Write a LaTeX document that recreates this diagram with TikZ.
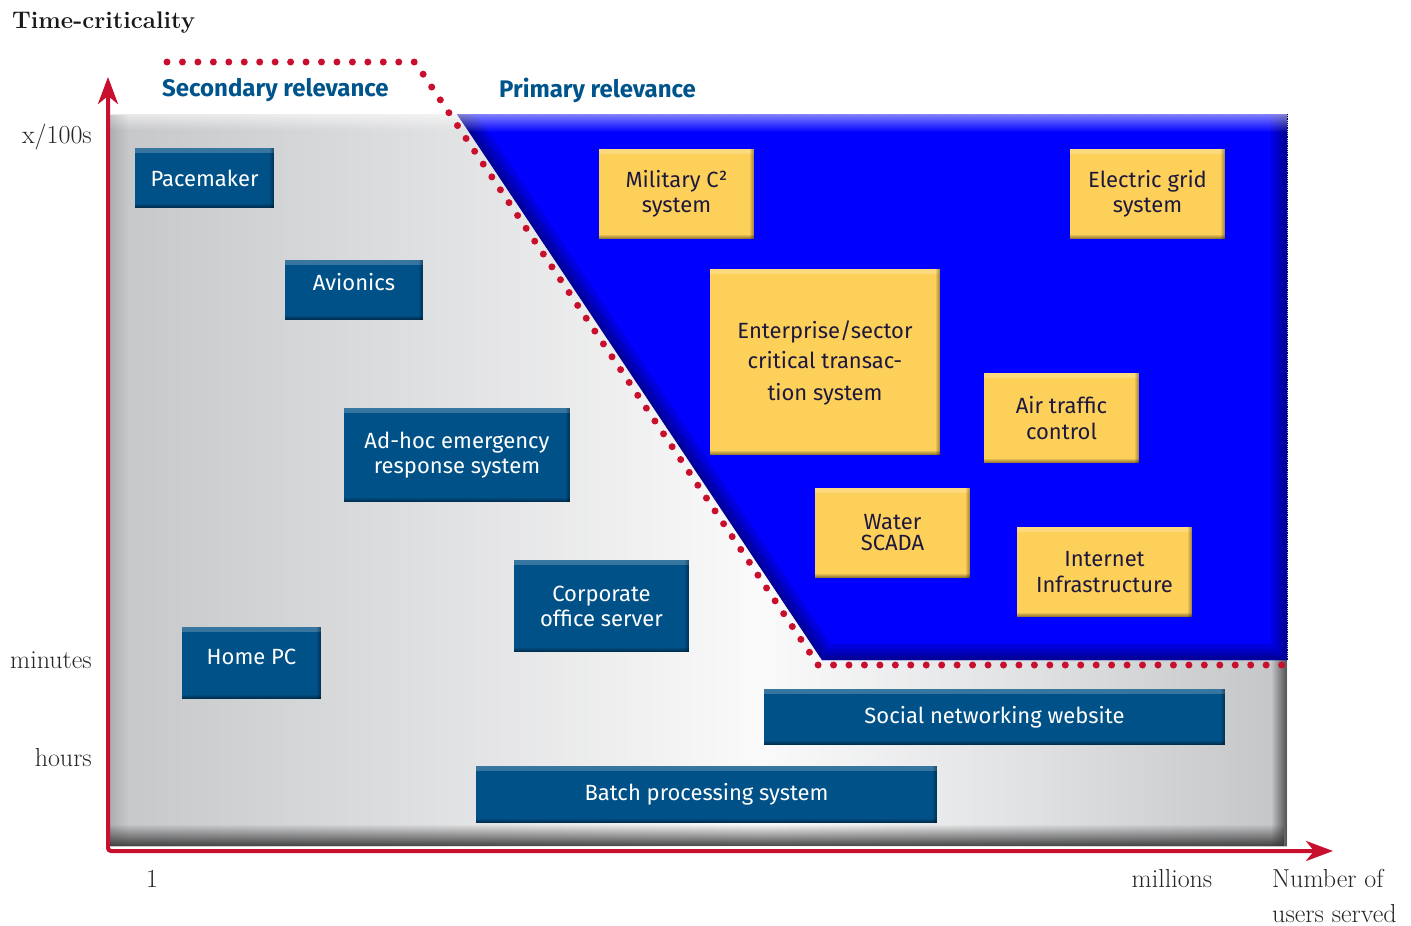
\documentclass[tikz,border=0pt]{standalone}
\usepackage{fontspec}
\newfontfamily\boxfont{Fira Sans}
\usetikzlibrary{arrows.meta,fadings}
\definecolor{axred}{RGB}{200,16,46}
\definecolor{boxblue}{RGB}{0,81,135}
\definecolor{hdblue}{RGB}{0,84,140}
\definecolor{ybox}{RGB}{253,208,90}
\definecolor{ytext}{RGB}{30,25,60}
\definecolor{navy}{RGB}{0,0,90}
\definecolor{ga}{RGB}{198,199,201}
\definecolor{gb}{RGB}{212,213,215}
\definecolor{gc}{RGB}{250,250,250}
\definecolor{gd}{RGB}{226,227,229}
\definecolor{ge}{RGB}{196,197,199}
\tikzset{
  bevel/.style={path picture={
    \fill[white,opacity=0.22,path fading=south] (path picture bounding box.north west) rectangle ([yshift=-5pt]path picture bounding box.north east);
    \fill[black,opacity=0.5,path fading=north] ([yshift=5pt]path picture bounding box.south west) rectangle (path picture bounding box.south east);
    \fill[black,opacity=0.4,path fading=west] ([xshift=-5pt]path picture bounding box.north east) rectangle (path picture bounding box.south east);
  }},
  bbox/.style={bevel, fill=boxblue, text=white, align=center, inner sep=0pt,
    font=\boxfont\fontsize{22}{25}\selectfont},
  ybx/.style={bevel, fill=ybox, text=ytext, align=center, inner sep=0pt,
    font=\boxfont\fontsize{22}{25.5}\selectfont},
  serif/.style={font=\fontsize{26}{30}\selectfont, text=black!85, inner sep=0pt},
  hd/.style={font=\boxfont\bfseries\fontsize{24}{27}\selectfont, text=hdblue, inner sep=0pt, anchor=base west},
  axis/.style={axred, line width=4pt, rounded corners=3pt},
  tipa/.tip={Stealth[length=27pt,width=20pt,inset=8pt]},
  reddots/.style={axred, line width=7pt, line cap=round, dash pattern=on 0pt off 15.45pt}
}
\begin{document}
\begin{tikzpicture}[x=1pt,y=-1pt]
\useasboundingbox (0,0) rectangle (1411,926);
% gray panel
\shade[left color=ga, right color=gb] (110,114) rectangle (290,846);
\shade[left color=gb, right color=gc] (290,114) rectangle (760,846);
\shade[left color=gc, right color=gd] (760,114) rectangle (1010,846);
\shade[left color=gd, right color=ge] (1010,114) rectangle (1287,846);
\fill[white,opacity=0.6,path fading=south] (110,114) rectangle (1287,130);
\fill[black,opacity=0.12,path fading=east] (110,114) rectangle (128,846);
\fill[black!80,opacity=0.9,path fading=north] (110,824) rectangle (1287,846);
\fill[black!80,opacity=0.8,path fading=west] (1271,114) rectangle (1287,846);
% blue primary region
\fill[blue] (457,114) -- (1287,114) -- (1287,660) -- (822,660) -- cycle;
\begin{scope}
\clip (457,114) -- (1287,114) -- (1287,660) -- (822,660) -- cycle;
\foreach \w in {32,22,14,8}{
  \draw[navy, line width=\w pt, opacity=0.2, line join=miter] (1287,100) -- (1287,660) -- (822,660) -- (457,114);
}
\fill[white,opacity=0.5,path fading=south] (440,114) rectangle (1300,132);
\end{scope}
\draw[densely dotted, blue!45!white, line width=0.8pt] (457,114) -- (1287,114);
\draw[densely dotted, navy, line width=0.8pt] (1287,114) -- (1287,660);
% red dotted boundary
\draw[reddots] (167,62) -- (415,62) -- (818,665) -- (1285,665);
% axes
\coordinate (ytop) at (108,77);
\coordinate (orig) at (108,851);
\coordinate (xend) at (1333,851);
\draw[axis, tipa-tipa] (ytop) -- (orig) -- (xend);
% titles and axis labels
\node[font=\bfseries\fontsize{24}{28}\selectfont, text=black!90, inner sep=0pt, anchor=base west] (title) at (12,28) {Time-criticality};
\node[serif, anchor=base east] (l100) at (92,143) {x/100s};
\node[serif, anchor=base east] (lmin) at (92,668) {minutes};
\node[serif, anchor=base east] (lhrs) at (92,766) {hours};
\node[serif, anchor=base] (lone) at (152,887) {1};
\node[serif, anchor=base] (lmil) at (1172,887) {millions};
\node[serif, anchor=base west, align=left] (lnum) at (1272,887) {Number of};
\node[serif, anchor=base west, align=left] (lusr) at (1272,922) {users served};
\node[hd] (sec) at (162,96) {Secondary relevance};
\node[hd] (pri) at (499,97) {Primary relevance};
% blue boxes
\node[bbox, minimum width=139, minimum height=60] (pace) at (204.5,178) {Pacemaker};
\node[bbox, minimum width=138, minimum height=60] (avio) at (354,290) {\raisebox{8pt}[\height][\depth]{Avionics}};
\node[bbox, minimum width=226, minimum height=94] (adhoc) at (457,455) {Ad-hoc emergency\\response system};
\node[bbox, minimum width=175, minimum height=92] (corp) at (601.5,606) {Corporate\\office server};
\node[bbox, minimum width=139, minimum height=72] (home) at (251.5,663) {\raisebox{6pt}[\height][\depth]{Home PC}};
\node[bbox, minimum width=461, minimum height=56] (social) at (994.5,717) {Social networking website};
\node[bbox, minimum width=461, minimum height=57] (batch) at (706.5,794.5) {Batch processing system};
% yellow boxes
\node[ybx, minimum width=155, minimum height=90] (mil) at (676.5,194) {Military C²\\system};
\node[ybx, minimum width=155, minimum height=90] (grid) at (1147.5,194) {Electric grid\\system};
\node[ybx, minimum width=230, minimum height=186, font=\boxfont\fontsize{22}{32}\selectfont] (ent) at (825,362) {\raisebox{-2pt}[\height][\depth]{Enterprise/sector}\\critical transac-\\tion system};
\node[ybx, minimum width=155, minimum height=90] (atc) at (1061.5,418) {Air traffic\\control};
\node[ybx, minimum width=155, minimum height=90, font=\boxfont\fontsize{22}{21}\selectfont] (water) at (892.5,533) {Water\\SCADA};
\node[ybx, minimum width=175, minimum height=90] (inet) at (1104.5,572) {Internet\\Infrastructure};
\end{tikzpicture}
\end{document}
